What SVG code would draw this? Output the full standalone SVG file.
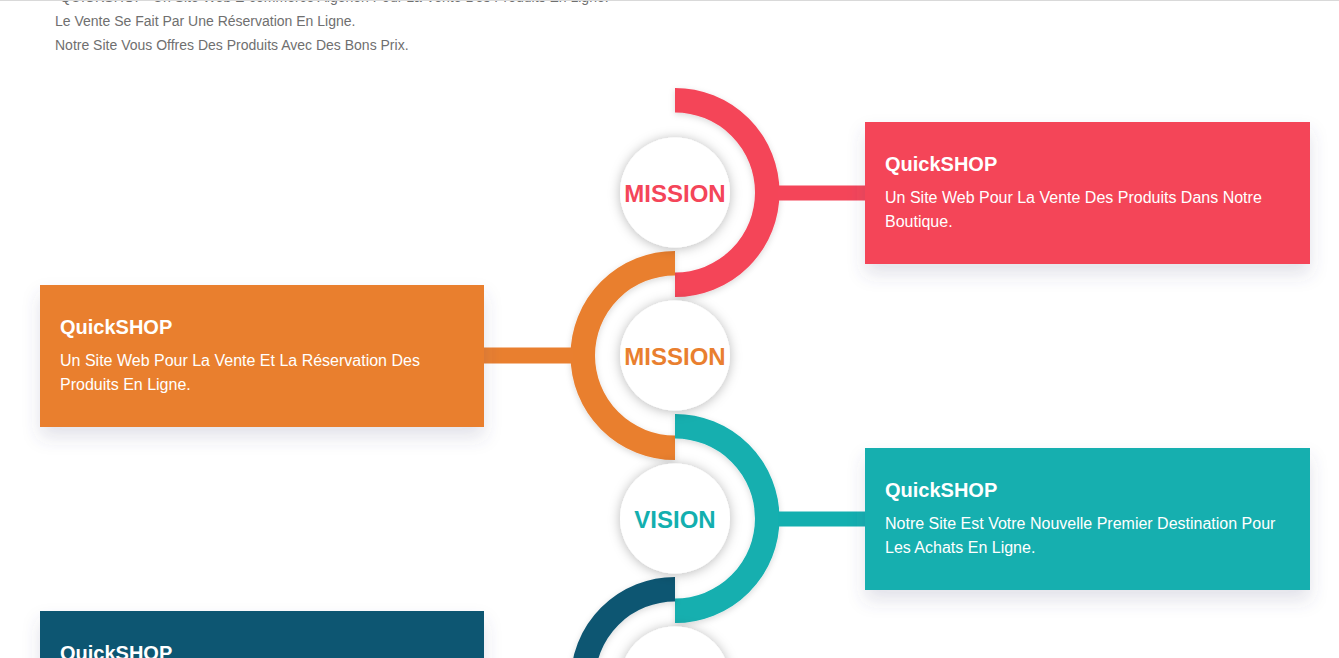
<svg xmlns="http://www.w3.org/2000/svg" width="1339" height="658" viewBox="0 0 1339 658">
  <defs>
    <filter id="cardShadow" x="-10%" y="-20%" width="120%" height="150%">
      <feDropShadow dx="0" dy="10" stdDeviation="9" flood-color="#4b4b7a" flood-opacity="0.16"/>
    </filter>
    <filter id="discShadow" x="-30%" y="-30%" width="160%" height="160%">
      <feDropShadow dx="0" dy="1" stdDeviation="6" flood-color="#000" flood-opacity="0.28"/>
    </filter>
    <filter id="arcShadow" x="-20%" y="-20%" width="140%" height="140%">
      <feDropShadow dx="0" dy="2" stdDeviation="3" flood-color="#000" flood-opacity="0.15"/>
    </filter>
    <style>
      .intro { font-family: "Liberation Sans", Arial, sans-serif; font-size: 14px; fill: #6f6f6f; }
      .title { font-family: "Liberation Sans", Arial, sans-serif; font-size: 20px; font-weight: bold; fill: #ffffff; }
      .body { font-family: "Liberation Sans", Arial, sans-serif; font-size: 16px; fill: #ffffff; }
      .badge { font-family: "Liberation Sans", Arial, sans-serif; font-size: 24px; font-weight: bold; text-anchor: middle; }
      .arc { fill: none; stroke-width: 24.5; filter: url(#arcShadow); }
      .disc { fill: #ffffff; filter: url(#discShadow); }
      .card { filter: url(#cardShadow); }
      .red { fill: #f44559; }
      .orange { fill: #e97f2f; }
      .teal { fill: #13afaf; }
      .navy { fill: #105672; }
    </style>
  </defs>

  <rect width="1339" height="658" fill="#ffffff"/>

  <!-- intro paragraph -->
  <g id="intro">
    <text class="intro" x="55" y="2">"QUICKSHOP" Un Site Web E-commerce Algérien Pour La Vente Des Produits En Ligne.</text>
    <text class="intro" x="55" y="26">Le Vente Se Fait Par Une Réservation En Ligne.</text>
    <text class="intro" x="55" y="50">Notre Site Vous Offres Des Produits Avec Des Bons Prix.</text>
    <line x1="0" y1="0.5" x2="1339" y2="0.5" stroke="#d9d9d9" stroke-width="1"/>
  </g>

  <!-- connectors: half rings and stems -->
  <g id="connectors">
    <path class="arc" stroke="#f44559" d="M675 100.25 A92.25 92.25 0 0 1 675 284.75"/>
    <path class="arc" stroke="#e97f2f" d="M675 263.25 A92.25 92.25 0 0 0 675 447.75"/>
    <path class="arc" stroke="#13afaf" d="M675 426.25 A92.25 92.25 0 0 1 675 610.75"/>
    <path class="arc" stroke="#105672" d="M675 589.25 A92.25 92.25 0 0 0 675 773.75"/>
    <rect class="red" x="778" y="185.5" width="90" height="15"/>
    <rect class="orange" x="481" y="347.5" width="92" height="16"/>
    <rect class="teal" x="778" y="511.5" width="90" height="15"/>
  </g>

  <!-- badges -->
  <g id="badge-mission-1">
    <circle class="disc" cx="675" cy="192.5" r="55"/>
    <text class="badge red" x="675" y="201.5">MISSION</text>
  </g>
  <g id="badge-mission-2">
    <circle class="disc" cx="675" cy="355.5" r="55"/>
    <text class="badge orange" x="675" y="364.5">MISSION</text>
  </g>
  <g id="badge-vision">
    <circle class="disc" cx="675" cy="518.5" r="55"/>
    <text class="badge teal" x="675" y="527.5">VISION</text>
  </g>
  <g id="badge-4">
    <circle class="disc" cx="675" cy="681.5" r="55"/>
  </g>

  <!-- cards -->
  <g id="card-1">
    <rect class="card red" x="865" y="122" width="445" height="142"/>
    <text class="title" x="885" y="170.5">QuickSHOP</text>
    <text class="body" x="885" y="203">Un Site Web Pour La Vente Des Produits Dans Notre</text>
    <text class="body" x="885" y="227">Boutique.</text>
  </g>
  <g id="card-2">
    <rect class="card orange" x="40" y="285" width="444" height="142"/>
    <text class="title" x="60" y="333.5">QuickSHOP</text>
    <text class="body" x="60" y="366">Un Site Web Pour La Vente Et La Réservation Des</text>
    <text class="body" x="60" y="390">Produits En Ligne.</text>
  </g>
  <g id="card-3">
    <rect class="card teal" x="865" y="448" width="445" height="142"/>
    <text class="title" x="885" y="496.5">QuickSHOP</text>
    <text class="body" x="885" y="529">Notre Site Est Votre Nouvelle Premier Destination Pour</text>
    <text class="body" x="885" y="553">Les Achats En Ligne.</text>
  </g>
  <g id="card-4">
    <rect class="card navy" x="40" y="611" width="444" height="142"/>
    <text class="title" x="60" y="659.5">QuickSHOP</text>
  </g>
</svg>
